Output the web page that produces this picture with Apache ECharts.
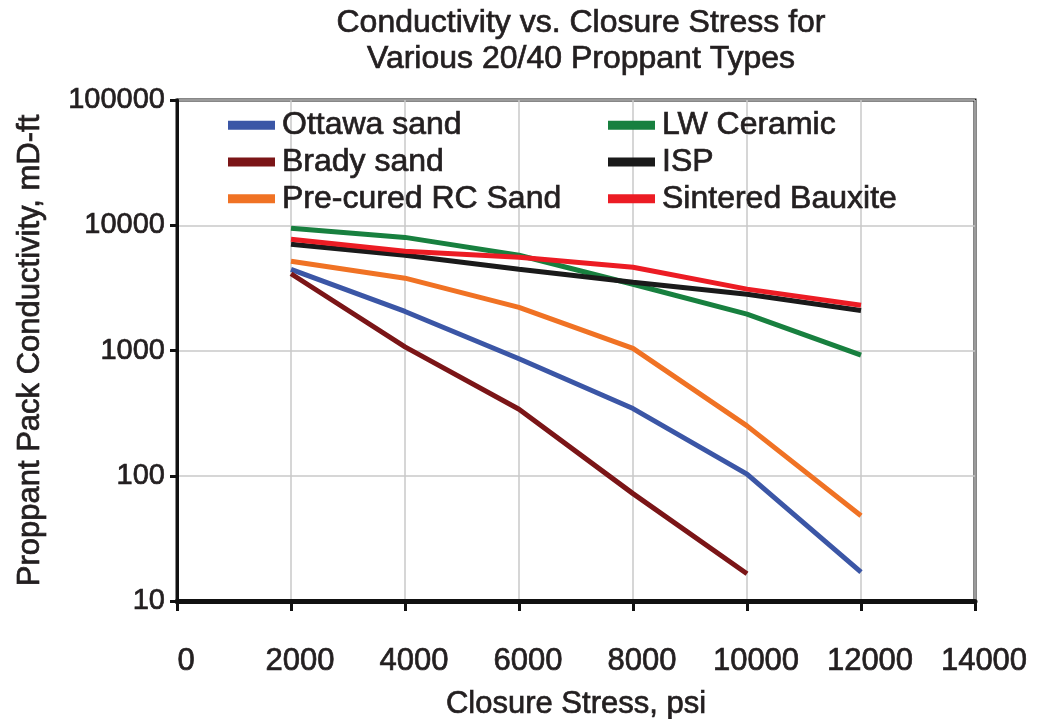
<!DOCTYPE html>
<html><head><meta charset="utf-8">
<script src="https://cdn.jsdelivr.net/npm/echarts@6/dist/echarts.min.js"></script>
<style>html,body{margin:0;padding:0;background:#fff}#c{width:1040px;height:719px}</style>
</head><body><div id="c"></div>
<script>
const stress = [2000, 4000, 6000, 8000, 10000, 12000];
const ottawa = [4450, 2050, 860, 344, 103, 17];
const brady = [4100, 1070, 340, 72, 16.5];
const precured = [5150, 3780, 2210, 1040, 250, 48];
const lwCeramic = [9460, 8000, 5760, 3380, 1950, 920];
const isp = [7040, 5760, 4450, 3510, 2810, 2090];
const bauxite = [7730, 6200, 5560, 4620, 3090, 2300];
const names = ['Ottawa sand','Brady sand','Pre-cured RC Sand','LW Ceramic','ISP','Sintered Bauxite'];
const colors = ['#3b56a6','#7b1517','#f07224','#18803f','#1a1a1a','#ec1c24'];
const values = [ottawa, brady, precured, lwCeramic, isp, bauxite];

const font = 'Liberation Sans, Arial, sans-serif';
const txt = '#231f20';
const heavy = {fontFamily: font, color: txt, textBorderColor: txt, textBorderWidth: 0.7};
const chart = echarts.init(document.getElementById('c'));
const series = names.map((n,i)=>({
  name: n, type: 'line', symbol: 'none',
  data: values[i].map((v,j)=>[stress[j], v]),
  lineStyle: {width: 5, color: colors[i]}, itemStyle: {color: colors[i]},
  z: 3
}));
const legendCommon = {orient:'vertical', itemWidth: 47, itemHeight: 9, itemGap: 4, icon: 'rect', padding: 0,
  textStyle: Object.assign({fontSize: 32, padding:[0,0,0,2]}, heavy), top: 109};
chart.setOption({
  animation: false,
  title: {text: 'Conductivity vs. Closure Stress for\nVarious 20/40 Proppant Types', left: 576, textAlign: 'center', top: 0, padding:[5,5],
    textStyle: Object.assign({fontSize: 32, fontWeight:'normal', lineHeight: 36}, heavy)},
  legend: [
    Object.assign({}, legendCommon, {left: 228, data: names.slice(0,3)}),
    Object.assign({}, legendCommon, {left: 608, data: names.slice(3)})
  ],
  grid: {left: 177, right: 65, top: 100, bottom: 118, show: true, borderColor: '#111', borderWidth: 3,
    containLabel: false, outerBoundsMode: 'none'},
  xAxis: {type: 'value', min: 0, max: 14000, interval: 2000,
    name: 'Closure Stress, psi', nameLocation: 'middle', nameGap: 88,
    nameTextStyle: Object.assign({fontSize: 31}, heavy),
    axisLine:{show:true, lineStyle:{color:'#111', width:5}},
    axisTick:{show:true, length:10, lineStyle:{color:'#111', width:3}},
    axisLabel: Object.assign({fontSize: 31, margin: 45, padding:[0,0,0,18], formatter: v => String(v)}, heavy),
    splitLine:{show:true, lineStyle:{color:'#c8c8c8', width:1.5}}
  },
  yAxis: {type: 'log', logBase: 10, min: 10, max: 100000,
    name: 'Proppant Pack Conductivity, mD-ft', nameLocation: 'middle', nameGap: 131,
    nameTextStyle: Object.assign({fontSize: 31}, heavy),
    axisLine:{show:true, lineStyle:{color:'#111', width:3}},
    axisTick:{show:true, length:7, lineStyle:{color:'#111', width:3}},
    axisLabel: Object.assign({fontSize: 29, margin: 12, formatter: v => String(Math.round(v))}, heavy),
    splitLine:{show:true, lineStyle:{color:'#c8c8c8', width:1.5}},
    minorTick:{show:false}
  },
  series: series
});
</script></body></html>
